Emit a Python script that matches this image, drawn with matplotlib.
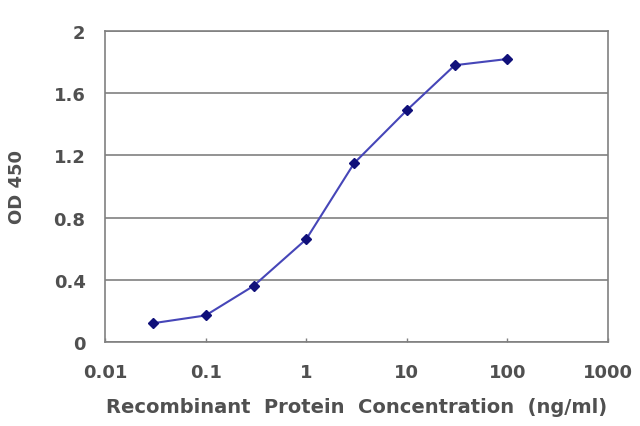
import matplotlib
matplotlib.use('Agg')
import matplotlib.pyplot as plt
from matplotlib.ticker import FixedLocator, NullLocator

plt.rcParams['font.family'] = ['DejaVu Sans']

# data
conc = [0.03, 0.1, 0.3, 1, 3, 10, 30, 100]
od450 = [0.12, 0.17, 0.36, 0.66, 1.15, 1.49, 1.78, 1.82]
x_ticks = [0.01, 0.1, 1, 10, 100, 1000]
x_labels = ['0.01', '0.1', '1', '10', '100', '1000']
y_ticks = [0, 0.4, 0.8, 1.2, 1.6, 2]
y_labels = ['0', '0.4', '0.8', '1.2', '1.6', '2']

text_col = '#505050'

fig = plt.figure(figsize=(6.4, 4.27), dpi=100)
ax = fig.add_axes([0.164, 0.197, 0.786, 0.728])

ax.plot(conc, od450, color='#4646b8', linewidth=1.5, marker='D', markersize=5,
        markerfacecolor='#10107a', markeredgecolor='#10107a', zorder=3)

ax.set_xscale('log')
ax.set_xlim(0.01, 1000)
ax.set_ylim(0, 2)
ax.xaxis.set_major_locator(FixedLocator(x_ticks))
ax.xaxis.set_minor_locator(NullLocator())
ax.set_xticklabels(x_labels, fontweight='bold')
ax.set_yticks(y_ticks)
ax.set_yticklabels(y_labels, fontweight='bold')

ax.grid(axis='y', color='#808080', linewidth=1.2)
ax.set_axisbelow(True)
for s in ax.spines.values():
    s.set_color('#808080')
    s.set_linewidth(1.2)

ax.tick_params(axis='both', colors='#808080', labelcolor=text_col, labelsize=13)
ax.tick_params(axis='y', length=0, pad=14)
ax.tick_params(axis='x', direction='in', length=3, width=1, pad=15)

ax.set_xlabel('Recombinant  Protein  Concentration  (ng/ml)', fontsize=14,
              fontweight='bold', color=text_col, labelpad=12)
ax.set_ylabel('OD 450', fontsize=13, fontweight='bold', color=text_col, labelpad=20)

fig.savefig('out.png', dpi=100)
